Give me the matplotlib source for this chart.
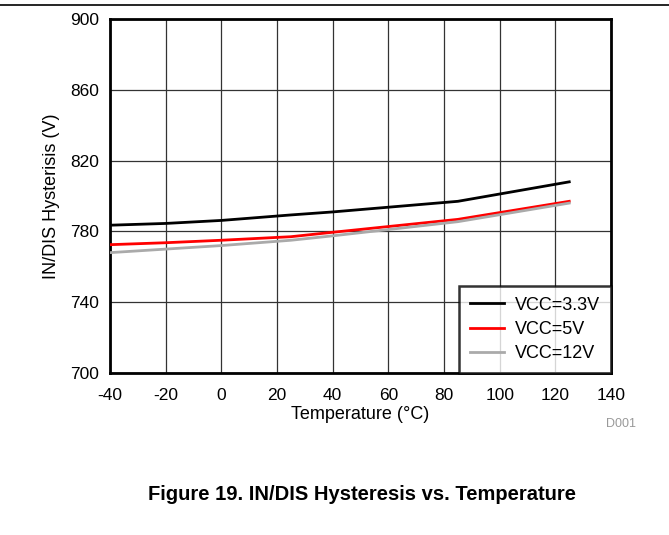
import matplotlib
matplotlib.use("Agg")
import matplotlib.pyplot as plt
from matplotlib.lines import Line2D

plt.rcParams['font.family'] = ['Liberation Sans', 'DejaVu Sans']
plt.rcParams['axes.unicode_minus'] = False

temps = [-40, -20, 0, 25, 40, 85, 125]
vcc33 = [783.5, 784.5, 786.2, 789.3, 791.0, 797.0, 808.0]
vcc5 = [772.5, 773.6, 775.0, 777.0, 779.5, 786.8, 797.0]
vcc12 = [768.0, 770.0, 772.0, 775.0, 777.5, 785.5, 796.0]
series = [("VCC=3.3V", vcc33, "black"), ("VCC=5V", vcc5, "#ff0000"), ("VCC=12V", vcc12, "#aaaaaa")]
xticks = list(range(-40, 141, 20))
yticks = list(range(700, 901, 40))

fig = plt.figure(figsize=(6.69, 5.35), dpi=100)
ax = fig.add_axes([110/669, 1-373/535, (611-110)/669, (373-19)/535])

for label, vals, col in series:
    ax.plot(temps, vals, color=col, lw=2, label=label, zorder=3)

ax.set_xlim(-40, 140)
ax.set_ylim(700, 900)
ax.set_xticks(xticks)
ax.set_yticks(yticks)
ax.grid(True, which='major', color='#333333', lw=0.9)
ax.tick_params(axis='x', length=0, labelsize=12.5, pad=11)
ax.tick_params(axis='y', length=0, labelsize=12.5, pad=8)
for s in ax.spines.values():
    s.set_linewidth(2)
ax.set_xlabel("Temperature (°C)", fontsize=13, labelpad=2)
ax.set_ylabel("IN/DIS Hysterisis (V)", fontsize=13, labelpad=7)

leg = ax.legend(loc='lower right', frameon=True, fancybox=False, fontsize=13,
                borderaxespad=0, handlelength=1.9, labelspacing=0.4, borderpad=0.6,
                handletextpad=0.6)
leg.get_frame().set_edgecolor('black')
leg.get_frame().set_linewidth(1.8)
leg.set_zorder(5)

fig.add_artist(Line2D([0, 1], [1-5/535, 1-5/535], color='black', lw=1.2))
fig.text(606/669, 1-424/535, "D001", fontsize=9, color='#999999', ha='left', va='center')
fig.text(362/669, 1-494/535, "Figure 19. IN/DIS Hysteresis vs. Temperature", fontsize=14.5,
         fontweight='bold', ha='center', va='center')

fig.savefig("out.png", dpi=100)
